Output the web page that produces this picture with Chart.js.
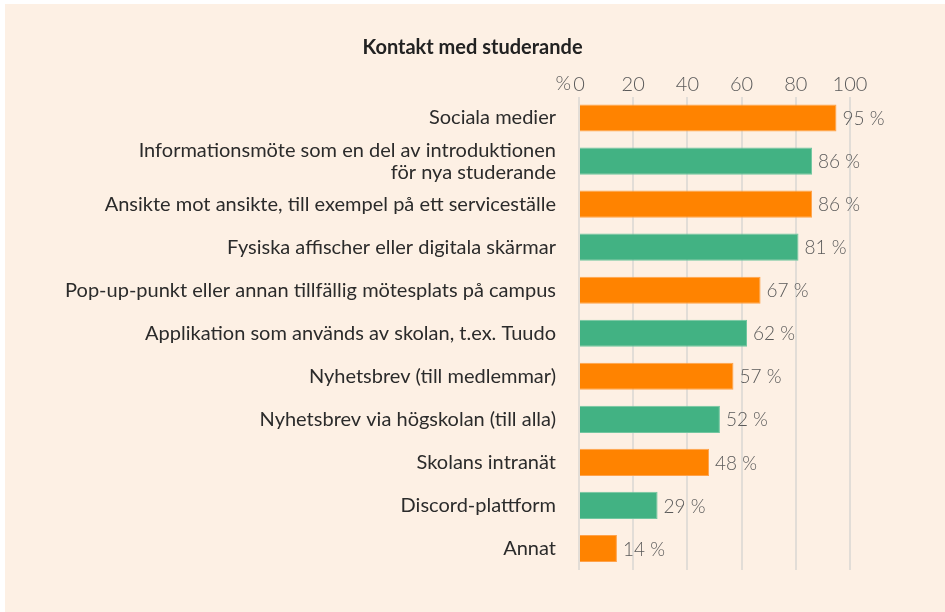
<!DOCTYPE html>
<html>
<head>
<meta charset="utf-8">
<script src="https://cdn.jsdelivr.net/npm/chart.js@4"></script>
<style>
  html,body{margin:0;padding:0;background:#fff;}
  #wrap{width:945px;height:612px;position:relative;}
</style>
</head>
<body>
<div id="wrap"><canvas id="c" width="945" height="612"></canvas></div>
<script>
// data
const categories = [
  'Sociala medier',
  ['Informationsmöte som en del av introduktionen', 'för nya studerande'],
  'Ansikte mot ansikte, till exempel på ett serviceställe',
  'Fysiska affischer eller digitala skärmar',
  'Pop-up-punkt eller annan tillfällig mötesplats på campus',
  'Applikation som används av skolan, t.ex. Tuudo',
  'Nyhetsbrev (till medlemmar)',
  'Nyhetsbrev via högskolan (till alla)',
  'Skolans intranät',
  'Discord-plattform',
  'Annat'
];
const values = [95, 86, 86, 81, 67, 62, 57, 52, 48, 29, 14];
const xTicks = [0, 20, 40, 60, 80, 100];
const titleText = 'Kontakt med studerande';

const ORANGE = '#ff8300', GREEN = '#42b283';
const barColors = values.map((v,i)=> i%2===0 ? ORANGE : GREEN);
const barBorders = values.map((v,i)=> i%2===0 ? '#ffa24a' : '#72c6a0');

// panel background, centred title, "%" in front of the axis, value labels
const extras = {
  id:'extras',
  beforeDraw(chart){
    const ctx = chart.ctx;
    ctx.save();
    ctx.fillStyle = '#fdf0e4';
    ctx.fillRect(5, 4, chart.width-5, chart.height-4);
    ctx.restore();
  },
  afterDraw(chart){
    const ctx = chart.ctx, x = chart.scales.x;
    ctx.save();
    ctx.textBaseline = 'middle';
    // title is centred on the whole panel, not on the plot
    ctx.font = 'bold 20px Lato';
    ctx.fillStyle = '#222';
    ctx.textAlign = 'center';
    ctx.fillText(titleText, chart.width/2, 48);

    ctx.font = '300 20px Lato';
    ctx.fillStyle = '#5a5a5a';
    ctx.textAlign = 'right';
    ctx.fillText('%', x.getPixelForValue(0) - 8, 84);
    ctx.textAlign = 'left';
    ctx.font = '300 19px Lato';
    chart.getDatasetMeta(0).data.forEach((bar,i)=>{
      ctx.fillText(values[i] + ' %', bar.x + 6, bar.y + 1);
    });
    ctx.restore();
  }
};

new Chart(document.getElementById('c'), {
  type:'bar',
  data:{
    labels: categories,
    datasets:[{
      data: values,
      backgroundColor: barColors,
      borderColor: barBorders,
      borderWidth: 1,
      categoryPercentage: 1,
      barPercentage: 0.63
    }]
  },
  options:{
    indexAxis:'y',
    responsive:false,
    animation:false,
    layout:{padding:{left:0, right:95, top:60, bottom:42}},
    plugins:{
      legend:{display:false},
      tooltip:{enabled:false},
      title:{display:false}
    },
    scales:{
      x:{
        position:'top',
        min:0, max:100,
        afterBuildTicks(s){ s.ticks = xTicks.map(v=>({value:v})); },
        afterFit(s){ s.height = 36.5; },
        grid:{color:'#e2ddd7', lineWidth:2, drawTicks:false},
        border:{display:false},
        ticks:{
          padding:0,
          color:'#5a5a5a',
          font:{family:'Lato', size:20, weight:'300'}
        }
      },
      y:{
        afterFit(s){ s.width = 579; },
        grid:{display:false, drawTicks:false},
        border:{display:false},
        ticks:{
          autoSkip:false,
          padding:23,
          color:'#2b2b2b',
          font:{family:'Lato', size:20, lineHeight:1.1}
        }
      }
    }
  },
  plugins:[extras]
});
</script>
</body>
</html>
